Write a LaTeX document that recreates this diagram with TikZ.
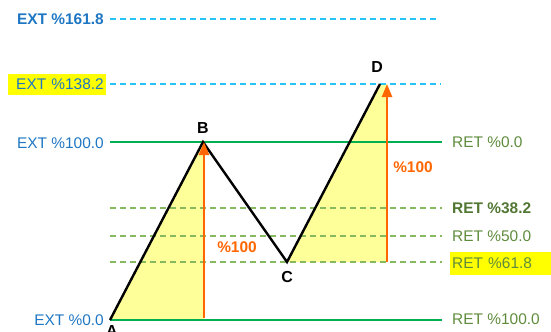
\documentclass[tikz,border=0pt]{standalone}
\usepackage{fontspec}
\setmainfont{Liberation Sans}
\usetikzlibrary{arrows.meta}
\definecolor{extblue}{RGB}{31,119,195}
\definecolor{skyline}{RGB}{40,195,245}
\definecolor{greenline}{RGB}{0,176,80}
\definecolor{dashgreen}{RGB}{135,185,95}
\definecolor{retgreen}{RGB}{95,140,60}
\definecolor{orangeA}{RGB}{255,102,0}
\definecolor{paleyellow}{RGB}{255,255,153}
\definecolor{hiyellow}{RGB}{255,255,0}
\tikzset{
  x=1bp,y=1bp,
  extlabel/.style={anchor=east,text=extblue,font=\fontsize{15.5}{16}\selectfont,inner sep=1pt},
  retlabel/.style={anchor=west,text=retgreen,font=\fontsize{15.5}{16}\selectfont,inner sep=2pt},
  extdash/.style={draw=skyline,line width=1.5bp,dash pattern=on 6bp off 4bp},
  solidgreen/.style={draw=greenline,line width=2.8bp},
  retdash/.style={draw=dashgreen,line width=1.2bp,dash pattern=on 6bp off 4bp},
  leg/.style={draw=black,line width=2.4bp,line join=miter},
  moveArrow/.style={draw=orangeA,line width=2.4bp,-{Triangle[width=10bp,length=13bp]}},
  ptlabel/.style={font=\bfseries\fontsize{16}{16}\selectfont,text=black,inner sep=0pt},
  pctlabel/.style={font=\bfseries\fontsize{15.5}{16}\selectfont,text=orangeA,inner sep=0pt},
}
\begin{document}
\begin{tikzpicture}
\useasboundingbox (0,0) rectangle (551,331);
% points
\coordinate (A) at (110,11);
\coordinate (B) at (203,189);
\coordinate (C) at (287,69);
\coordinate (D) at (380,247);
\coordinate (F1) at (204,11);
\coordinate (S1) at (204,13);
\coordinate (T1) at (204,189);
\coordinate (F2) at (387,69);
\coordinate (T2) at (387,247);
% level end points
\coordinate (L1a) at (110,312); \coordinate (L1b) at (436,312);
\coordinate (L2a) at (110,247); \coordinate (L2b) at (441,247);
\coordinate (L3a) at (110,189); \coordinate (L3b) at (442,189);
\coordinate (L4a) at (110,123); \coordinate (L4b) at (442,123);
\coordinate (L5a) at (110,95);  \coordinate (L5b) at (442,95);
\coordinate (L6a) at (110,69);  \coordinate (L6b) at (442,69);
\coordinate (L7a) at (110,11);  \coordinate (L7b) at (442,11);
% fills
\fill[paleyellow] (A) -- (B) -- (F1) -- cycle;
\fill[paleyellow] (C) -- (D) -- (T2) -- (F2) -- cycle;
% level lines
\draw[extdash] (L1a) -- (L1b);
\draw[extdash] (L2a) -- (L2b);
\draw[retdash] (L4a) -- (L4b);
\draw[retdash] (L5a) -- (L5b);
\draw[retdash] (L6a) -- (L6b);
\draw[solidgreen] (L3a) -- (L3b);
\draw[solidgreen] (L7a) -- (L7b);
% legs
\draw[leg] (A) -- (B) -- (C) -- (D);
% arrows
\draw[moveArrow] (S1) -- (T1);
\draw[moveArrow] (F2) -- (T2);
% left labels
\node[extlabel,font=\bfseries\fontsize{15.5}{16}\selectfont] (e1) at (105,312) {EXT \%161.8};
\node[extlabel,fill=hiyellow,text width=94bp,align=right,inner xsep=2bp,minimum height=21bp] (e2) at (106,247) {EXT \%138.2};
\node[extlabel] (e3) at (105,188) {EXT \%100.0};
\node[extlabel] (e4) at (105,11) {EXT \%0.0};
% right labels
\node[retlabel] (r1) at (450,189) {RET \%0.0};
\node[retlabel,font=\bfseries\fontsize{15.5}{16}\selectfont,text=retgreen!85!black] (r2) at (450,123) {RET \%38.2};
\node[retlabel] (r3) at (450,95) {RET \%50.0};
\node[retlabel,fill=hiyellow,text width=97bp,align=left,minimum height=23bp] (r4) at (450,68) {RET \%61.8};
\node[retlabel] (r5) at (450,12) {RET \%100.0};
% point labels
\node[ptlabel] (lA) at (112,0) {A};
\node[ptlabel] (lB) at (203,203) {B};
\node[ptlabel] (lC) at (287,54) {C};
\node[ptlabel] (lD) at (377,264) {D};
% move labels
\node[pctlabel] (p1) at (237,84) {\%100};
\node[pctlabel] (p2) at (413,164) {\%100};
\end{tikzpicture}
\end{document}
